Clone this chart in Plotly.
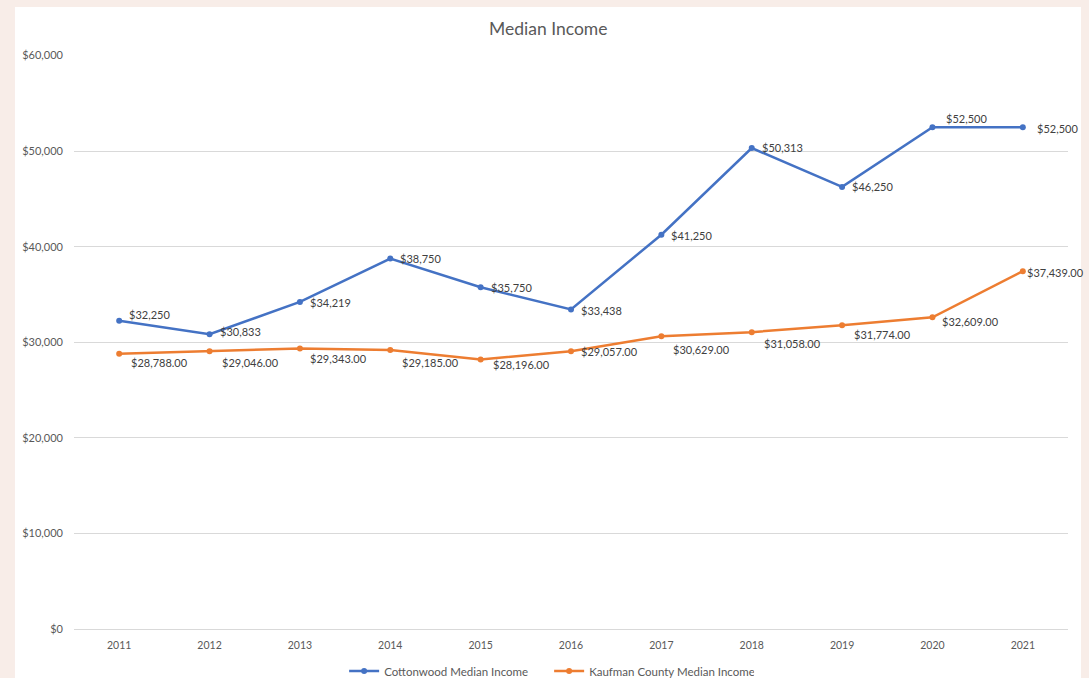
import plotly.graph_objects as go

years = ["2011", "2012", "2013", "2014", "2015", "2016", "2017", "2018", "2019", "2020", "2021"]
cottonwood = [32250, 30833, 34219, 38750, 35750, 33438, 41250, 50313, 46250, 52500, 52500]
kaufman = [28788, 29046, 29343, 29185, 28196, 29057, 30629, 31058, 31774, 32609, 37439]
y_ticks = [0, 10000, 20000, 30000, 40000, 50000, 60000]
y_tick_text = ["$0", "$10,000", "$20,000", "$30,000", "$40,000", "$50,000", "$60,000"]

# label offsets (pixels) for data labels
blue_shift = [(8, 6), (8, 3), (8, -1), (8, 0), (8, 0), (8, -1), (8, -1), (8, 1), (8, 0), (12, 9), (12, -1)]
orange_shift = [(10, -9), (10, -11), (8, -10), (10, -12), (10, -5), (8, 0), (10, -13), (10, -11), (10, -9), (8, -4), (2, -1)]

BLUE = "#4472C4"
ORANGE = "#ED7D31"
FONT = "Lato, 'Open Sans', sans-serif"

fig = go.Figure()
fig.add_trace(go.Scatter(
    x=years, y=cottonwood, mode="lines+markers", name="Cottonwood Median Income",
    line=dict(color=BLUE, width=2.5), marker=dict(size=6, color=BLUE)))
fig.add_trace(go.Scatter(
    x=years, y=kaufman, mode="lines+markers", name="Kaufman County Median Income",
    line=dict(color=ORANGE, width=2.5), marker=dict(size=6, color=ORANGE)))

annotations = []
for i, (v, (dx, dy)) in enumerate(zip(cottonwood, blue_shift)):
    annotations.append(dict(x=i, y=v, xref="x", yref="y", text=f"${v:,.0f}", showarrow=False,
                            xanchor="left", yanchor="middle", xshift=dx, yshift=dy,
                            font=dict(size=11, color="#404040", family=FONT)))
for i, (v, (dx, dy)) in enumerate(zip(kaufman, orange_shift)):
    annotations.append(dict(x=i, y=v, xref="x", yref="y", text=f"${v:,.2f}", showarrow=False,
                            xanchor="left", yanchor="middle", xshift=dx, yshift=dy,
                            font=dict(size=11, color="#404040", family=FONT)))

annotations.append(dict(text="Median Income", x=0.477, y=1.0, xref="paper", yref="paper",
                        xanchor="center", yanchor="middle", yshift=27, showarrow=False,
                        font=dict(size=17.5, color="#595959", family=FONT)))

fig.update_layout(
    width=1089, height=678,
    margin=dict(l=74, r=21, t=55, b=49, autoexpand=False),
    paper_bgcolor="#f8ede8",
    plot_bgcolor="white",
    showlegend=True,
    legend=dict(orientation="h", x=0.478, xanchor="center", yref="container", y=0.0103,
                yanchor="middle", itemwidth=30, entrywidth=160, entrywidthmode="pixels",
                font=dict(size=11.5, color="#595959", family=FONT), bgcolor="rgba(0,0,0,0)"),
    annotations=annotations,
    shapes=[dict(type="rect", xref="paper", yref="paper", x0=-0.0594, x1=1.0131,
                 y0=-0.09, y1=1.0836, fillcolor="white", line=dict(width=0), layer="below")],
    xaxis=dict(type="category", showgrid=False, showline=False, zeroline=False,
               ticks="", ticklabelstandoff=8,
               tickfont=dict(size=10.5, color="#595959", family=FONT),
               range=[-0.5, 10.5]),
    yaxis=dict(range=[0, 60050], tickvals=y_ticks, ticktext=y_tick_text,
               showgrid=True, gridcolor="#d9d9d9", gridwidth=1, zeroline=True,
               zerolinecolor="#d9d9d9", zerolinewidth=1, showline=False, ticks="",
               ticklabelstandoff=10,
               tickfont=dict(size=11, color="#595959", family=FONT)),
)

fig.write_html("out.html")
